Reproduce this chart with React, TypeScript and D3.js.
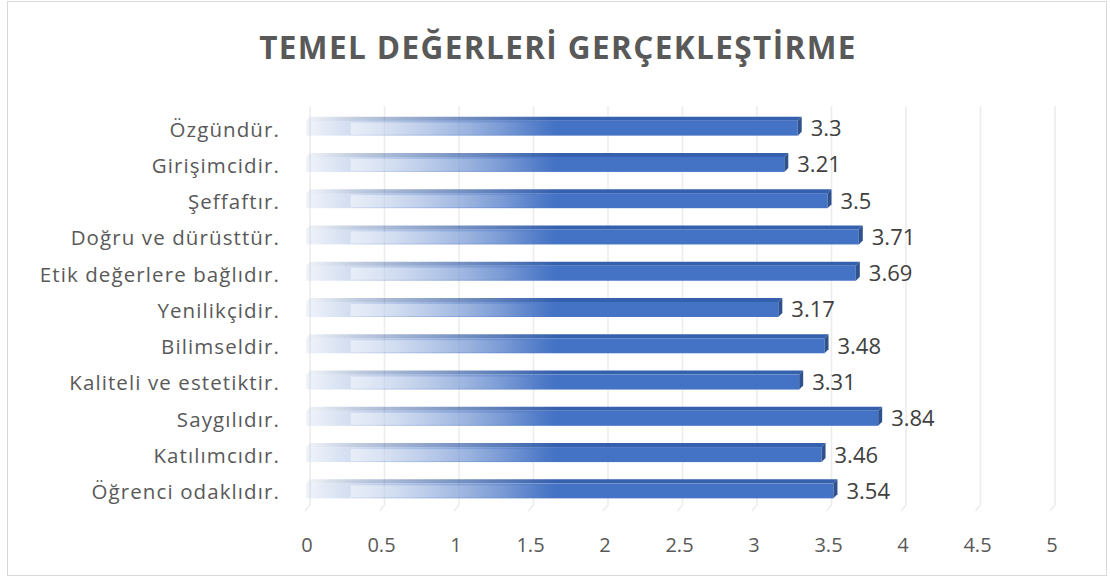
import React from "react";
import * as d3 from "d3";

const categories = [
  "Özgündür.",
  "Girişimcidir.",
  "Şeffaftır.",
  "Doğru ve dürüsttür.",
  "Etik değerlere bağlıdır.",
  "Yenilikçidir.",
  "Bilimseldir.",
  "Kaliteli ve estetiktir.",
  "Saygılıdır.",
  "Katılımcıdır.",
  "Öğrenci odaklıdır.",
];
const values = [3.3, 3.21, 3.5, 3.71, 3.69, 3.17, 3.48, 3.31, 3.84, 3.46, 3.54];
const ticks = [0, 0.5, 1, 1.5, 2, 2.5, 3, 3.5, 4, 4.5, 5];
const title = "TEMEL DEĞERLERİ GERÇEKLEŞTİRME";

const W = 1110;
const H = 579;
const FONT = "'Open Sans', 'Noto Sans', sans-serif";

export default function App() {
  const x = d3.scaleLinear().domain([0, 5]).range([306, 1051]);
  const y = d3.scaleBand<string>().domain(categories).range([109, 508]).paddingInner(0).paddingOuter(0);
  const DX = 4;
  const DY = 4;
  const barH = 15;
  const blue = "#4472c4";
  const gridBottom = 505;

  return (
    <svg width={W} height={H} style={{ position: "absolute", left: 0, top: 0 }}>
      <defs>
        <linearGradient id="frontGrad" gradientUnits="userSpaceOnUse" x1={x(0)} x2={x(1.68)} y1={0} y2={0}>
          <stop offset="0" stopColor={blue} stopOpacity={0.08} />
          <stop offset="0.2" stopColor={blue} stopOpacity={0.26} />
          <stop offset="1" stopColor={blue} stopOpacity={1} />
        </linearGradient>
        <linearGradient id="innerGrad" gradientUnits="userSpaceOnUse" x1={x(0.3)} x2={x(1.6)} y1={0} y2={0}>
          <stop offset="0" stopColor="#ffffff" stopOpacity={0.5} />
          <stop offset="1" stopColor="#ffffff" stopOpacity={0} />
        </linearGradient>
        <linearGradient id="topGrad" gradientUnits="userSpaceOnUse" x1={x(0)} x2={x(1.68)} y1={0} y2={0}>
          <stop offset="0" stopColor="#2f5597" stopOpacity={0.06} />
          <stop offset="0.2" stopColor="#2f5597" stopOpacity={0.3} />
          <stop offset="1" stopColor="#3560ae" stopOpacity={1} />
        </linearGradient>
      </defs>
      <rect x={0} y={0} width={W} height={H} fill="#ffffff" />
      <rect x={7.5} y={1.5} width={1099} height={574} fill="#ffffff" stroke="#d9d9d9" strokeWidth={1} />

      <text
        x={558}
        y={59}
        textAnchor="middle"
        fontFamily={FONT}
        fontWeight={700}
        fontSize={31.5}
        letterSpacing={1.4}
        fill="#595959"
      >
        {title}
      </text>

      {/* gridlines (back wall + floor diagonal) */}
      {ticks.map((t) => (
        <path
          key={"g" + t}
          d={`M${x(t) + DX},106 L${x(t) + DX},${gridBottom} L${x(t) - 1},${gridBottom + 6}`}
          fill="none"
          stroke="#ececec"
          strokeWidth={1.5}
        />
      ))}

      {/* bars */}
      {categories.map((c, i) => {
        const v = values[i];
        const yc = (y(c) as number) + y.bandwidth() / 2 + 1;
        const top = yc - barH / 2;
        const x0 = x(0);
        const x1 = x(v);
        return (
          <g key={c}>
            <path
              d={`M${x0},${top} L${x0 + DX},${top - DY} L${x1 + DX},${top - DY} L${x1},${top} Z`}
              fill="url(#topGrad)"
            />
            <rect x={x0} y={top} width={x1 - x0} height={barH} fill="url(#frontGrad)" />
            <rect x={x(0.3)} y={top + 2} width={x1 - x(0.3)} height={barH - 3} fill="url(#innerGrad)" />
            <path
              d={`M${x1},${top} L${x1 + DX},${top - DY} L${x1 + DX},${top + barH - DY} L${x1},${top + barH} Z`}
              fill="#2f528f"
            />
            <text
              x={x1 + DX + 9}
              y={yc}
              dy="0.36em"
              fontFamily={FONT}
              fontSize={22}
              fill="#404040"
            >
              {String(v)}
            </text>
            <text
              x={280}
              y={yc + 1}
              dy="0.36em"
              textAnchor="end"
              fontFamily={FONT}
              fontSize={20.5}
              letterSpacing={1.1}
              fill="#595959"
            >
              {c}
            </text>
          </g>
        );
      })}

      {/* x tick labels */}
      {ticks.map((t) => (
        <text
          key={"t" + t}
          x={x(t) + 1}
          y={545}
          dy="0.36em"
          textAnchor="middle"
          fontFamily={FONT}
          fontSize={20}
          fill="#595959"
        >
          {String(t)}
        </text>
      ))}
    </svg>
  );
}
